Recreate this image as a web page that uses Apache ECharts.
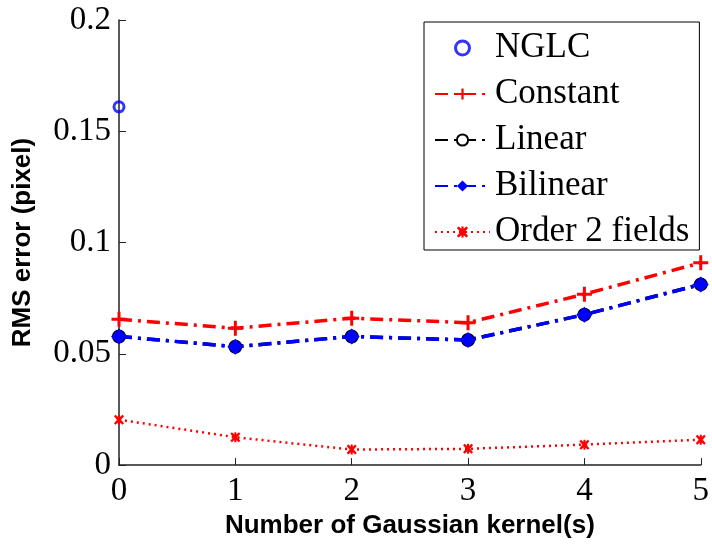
<!DOCTYPE html>
<html>
<head>
<meta charset="utf-8">
<script src="https://cdn.jsdelivr.net/npm/echarts@6/dist/echarts.min.js"></script>
<style>html,body{margin:0;padding:0;background:#fff;}#c{width:712px;height:544px;}</style>
</head>
<body>
<div id="c"></div>
<script>
var xValues = [0, 1, 2, 3, 4, 5];
var nglc = [0.161];
var constant = [0.0655, 0.0615, 0.0660, 0.0640, 0.0768, 0.0909];
var linear = [0.0578, 0.0532, 0.0578, 0.0562, 0.0676, 0.0812];
var bilinear = [0.0578, 0.0532, 0.0578, 0.0562, 0.0676, 0.0812];
var order2 = [0.0204, 0.0125, 0.0070, 0.0073, 0.0092, 0.0114];
var yTicks = [0, 0.05, 0.1, 0.15, 0.2];

function pairs(vals) { return vals.map(function (v, i) { return [xValues[i], v]; }); }

var plusPath = 'path://M4,0H6V4H10V6H6V10H4V6H0V4H4Z';
var starPath = 'path://M1.5,0L5,3L8.5,0L10,1.5L7,5L10,8.5L8.5,10L5,7L1.5,10L0,8.5L3,5L0,1.5Z M4,0H6V10H4Z';
var serif = '"Liberation Serif", "Times New Roman", serif';
var sans = '"Liberation Sans", Arial, sans-serif';

var chart = echarts.init(document.getElementById('c'), null, {renderer: 'canvas'});
chart.setOption({
  animation: false,
  backgroundColor: '#fff',
  grid: {left: 119, right: 6, top: 20, bottom: 75},
  xAxis: {
    type: 'value', min: 0, max: 5, interval: 1,
    name: 'Number of Gaussian kernel(s)', nameLocation: 'middle', nameGap: 44,
    nameTextStyle: {fontFamily: sans, fontWeight: 'bold', fontSize: 26, color: '#000'},
    axisLine: {lineStyle: {color: '#222', width: 1.5}},
    axisTick: {inside: true, length: 7, lineStyle: {color: '#222'}},
    axisLabel: {fontFamily: serif, fontSize: 33, color: '#000', margin: 10},
    splitLine: {show: false}
  },
  yAxis: {
    type: 'value', min: yTicks[0], max: yTicks[yTicks.length - 1], interval: 0.05,
    name: 'RMS error (pixel)', nameLocation: 'middle', nameGap: 83,
    nameTextStyle: {fontFamily: sans, fontWeight: 'bold', fontSize: 26, color: '#000'},
    axisLine: {show: true, lineStyle: {color: '#222', width: 1.5}},
    axisTick: {show: true, inside: true, length: 7, lineStyle: {color: '#222'}},
    axisLabel: {fontFamily: serif, fontSize: 33, color: '#000', margin: 8},
    splitLine: {show: false}
  },
  legend: {
    orient: 'vertical', left: 424, top: 22,
    padding: [8, 10, 0, 10], itemGap: 10, itemWidth: 55, itemHeight: 14,
    borderColor: '#000', borderWidth: 1, backgroundColor: '#fff',
    textStyle: {fontFamily: serif, fontSize: 35, color: '#000', lineHeight: 36},
    data: [{name: 'NGLC', itemStyle: {color: 'rgba(0,0,0,0)', borderColor: '#0000ff', borderWidth: 3}},
           'Constant', 'Linear', 'Bilinear', 'Order 2 fields']
  },
  series: [
    {
      name: 'Constant', type: 'line', data: pairs(constant),
      symbol: plusPath, symbolSize: 15,
      lineStyle: {color: '#ff0000', width: 3.5, type: [13, 6, 3, 6]},
      itemStyle: {color: '#ff0000'}
    },
    {
      name: 'Linear', type: 'line', data: pairs(linear),
      symbol: 'emptyCircle', symbolSize: 12,
      lineStyle: {color: '#000', width: 3.5, type: [13, 6, 3, 6]},
      itemStyle: {color: '#000', borderColor: '#000', borderWidth: 2}
    },
    {
      name: 'Bilinear', type: 'line', data: pairs(bilinear),
      symbol: 'diamond', symbolSize: 16,
      lineStyle: {color: '#0000ff', width: 3.5, type: [13, 6, 3, 6]},
      itemStyle: {color: '#0000ff'}
    },
    {
      name: 'Order 2 fields', type: 'line', data: pairs(order2),
      symbol: starPath, symbolSize: 10,
      lineStyle: {color: '#ff0000', width: 2.5, type: [2, 4]},
      itemStyle: {color: '#ff0000'}
    },
    {
      name: 'NGLC', type: 'scatter', data: [[xValues[0], nglc[0]]],
      symbol: 'circle', symbolSize: 10,
      itemStyle: {color: 'rgba(0,0,0,0)', borderColor: '#0000ff', borderWidth: 3}
    }
  ]
});
</script>
</body>
</html>
